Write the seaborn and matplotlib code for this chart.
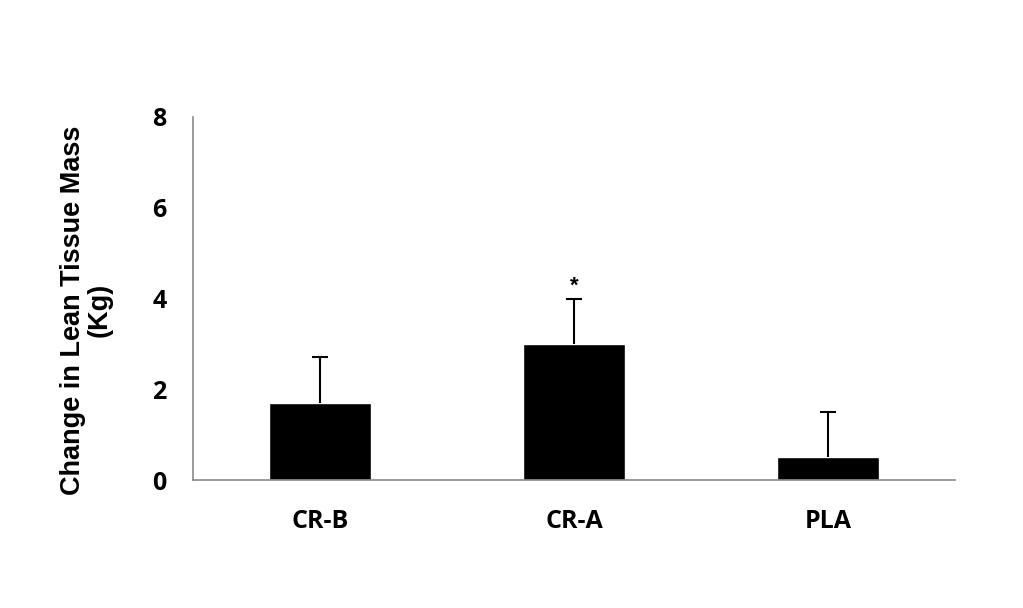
import matplotlib.pyplot as plt
import pandas as pd
import seaborn as sns
from matplotlib.font_manager import FontProperties

groups = ["CR-B", "CR-A", "PLA"]
change = [1.7, 3.0, 0.5]
sd_up = [1.0, 1.0, 1.0]
marks = ["", "*", ""]

sns.set_theme(style="white")
plt.rcParams["font.family"] = ["Open Sans", "DejaVu Sans"]
plt.rcParams["text.color"] = "black"
plt.rcParams["axes.labelcolor"] = "black"
plt.rcParams["xtick.color"] = "black"
plt.rcParams["ytick.color"] = "black"

df = pd.DataFrame({"Group": groups, "Change": change})

fig = plt.figure(figsize=(10.23, 6.08), dpi=100)
ax = fig.add_axes([193 / 1023, 128 / 608, 762 / 1023, 363 / 608])

sns.barplot(data=df, x="Group", y="Change", color="black", saturation=1,
            width=0.4, errorbar=None, ax=ax)
# upward error bars only
eb = ax.errorbar(range(len(groups)), change, yerr=[[0] * len(groups), sd_up],
                 fmt="none", ecolor="black", elinewidth=1.5, capsize=6, capthick=1.5)
# hide the cap sitting on top of each bar
for cap in eb.lines[1]:
    if list(cap.get_ydata()) == list(change):
        cap.set_visible(False)

arial_b = FontProperties(family="Liberation Sans", weight="bold", size=16)
for i, m in enumerate(marks):
    if m:
        ax.text(i, change[i] + sd_up[i] + 0.05, m, ha="center", va="bottom",
                fontproperties=arial_b)

ax.set_xlim(-0.5, 2.5)
ax.set_ylim(0, 8)
ax.set_yticks([0, 2, 4, 6, 8])
ax.set_xticks([-0.5, 0.5, 1.5, 2.5], minor=True)
ax.set_xticks(range(len(groups)))
ax.set_xticklabels(groups)
ax.tick_params(axis="x", which="major", length=0, pad=21, labelsize=18)
ax.tick_params(axis="x", which="minor", length=6, color="#898989", width=1.2)
ax.tick_params(axis="y", length=6, color="#898989", width=1.2, pad=13, labelsize=18)
for lab in ax.get_xticklabels() + ax.get_yticklabels():
    lab.set_fontweight("bold")
    lab.set_fontstretch("condensed")
    lab.set_color("black")

sns.despine(ax=ax, top=True, right=True)
for s in ["left", "bottom"]:
    ax.spines[s].set_color("#898989")
    ax.spines[s].set_linewidth(1.2)

ax.set_xlabel("")
label_fp = FontProperties(family="Liberation Sans", weight="bold", size=19.5)
ax.set_ylabel("Change in Lean Tissue Mass\n(Kg)", fontproperties=label_fp,
              linespacing=1.0, color="black")
ax.yaxis.set_label_coords(-0.106, 0.468)

plt.savefig("out.png", dpi=100)
